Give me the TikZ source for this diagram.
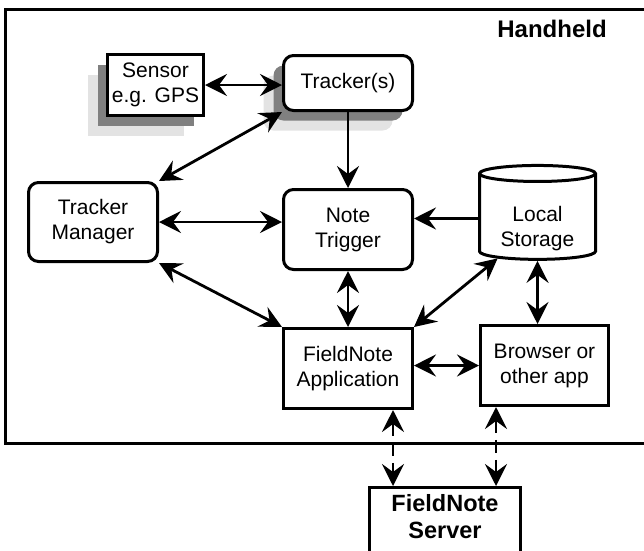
\documentclass[tikz,border=0pt]{standalone}
\usepackage{fontspec}
\setmainfont{Liberation Sans}
\usetikzlibrary{positioning, arrows.meta, shapes.geometric, shadows}

\begin{document}
\begin{tikzpicture}[x=1pt, y=-1pt, >={Stealth[length=22pt, width=22pt, inset=8pt]},
    every node/.style={font=\fontsize{21}{25}\selectfont, align=center},
    box/.style={rectangle, draw, line width=3pt, fill=white, inner sep=2pt},
    rbox/.style={box, rounded corners=10pt},
    store/.style={cylinder, shape border rotate=90, aspect=0.2, draw, line width=3pt, fill=white},
    stacked/.style={general shadow={fill=gray!22, shadow xshift=-20pt, shadow yshift=-20pt},
                    general shadow={fill=gray, shadow xshift=-10pt, shadow yshift=-10pt}},
    link/.style={line width=2.8pt},
    remote/.style={link, dash pattern=on 13pt off 7pt}]

    \useasboundingbox (0,0) rectangle (644,550);

    % Handheld frame
    \draw[line width=3pt] (5,9) rectangle (650,443);
    \node[font=\bfseries\fontsize{24}{28}\selectfont] (hh) at (552,29) {Handheld};

    % Sensor and trackers - with stacked shadows
    \node[box, stacked, minimum width=96pt, minimum height=61pt] (sens) at (155.5,85) {Sensor\\e.g. GPS};
    \node[rbox, stacked, minimum width=129pt, minimum height=55pt] (trk) at (348,83) {Tracker(s)};

    % Middle row
    \node[rbox, minimum width=129pt, minimum height=79pt] (tm) at (93,222) {Tracker\\Manager};
    \node[rbox, minimum width=129pt, minimum height=80pt] (nt) at (348,229.5) {Note\\Trigger};
    \node[store, minimum width=116pt, minimum height=86pt, text height=60pt] (ls) at (537.5,218.5) {Local\\Storage};

    % Bottom row
    \node[box, minimum width=129pt, minimum height=80pt] (fa) at (348,368.5) {FieldNote\\Application};
    \node[box, minimum width=128pt, minimum height=80pt] (br) at (544.5,365.5) {Browser or\\other app};

    % Server outside the handheld
    \node[box, anchor=north, minimum width=151pt, minimum height=80pt, text depth=22pt,
          font=\bfseries\fontsize{23.5}{27}\selectfont] (srv) at (445,486) {FieldNote\\Server};

    % Connections inside the handheld
    \draw[<->, link] (sens.east) -- (sens.east -| trk.west);
    \draw[<->, link] (tm.north east) -- (trk.south west);
    \draw[->, link] (trk) -- (nt);
    \draw[<->, link] (tm.east) -- (tm.east -| nt.west);
    \draw[->, link] (ls.west) -- (ls.west -| nt.east);
    \draw[<->, link] (tm.south east) -- (fa.north west);
    \draw[<->, link] (nt) -- (fa);
    \draw[<->, link] (ls.south west) -- (fa.north east);
    \draw[<->, link] (ls.south) -- (ls.south |- br.north);
    \draw[<->, link] (br.west -| fa.east) -- (br.west);

    % Dashed links to the server
    \coordinate (fa-out) at ([xshift=-21pt]fa.south east);
    \coordinate (br-out) at ([xshift=17pt]br.south west);
    \draw[<->, remote] (fa-out) -- (fa-out |- srv.north);
    \draw[<->, remote] (br-out) -- (br-out |- srv.north);

\end{tikzpicture}
\end{document}
